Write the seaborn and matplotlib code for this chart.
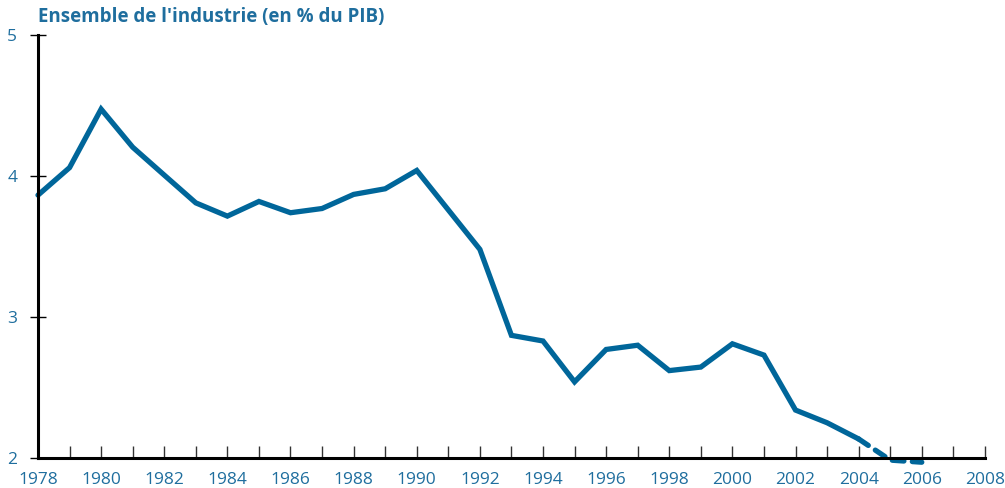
import numpy as np
import pandas as pd
import matplotlib
matplotlib.use('Agg')
import matplotlib.pyplot as plt
import seaborn as sns

# Values
years = [1978, 1979, 1980, 1981, 1982, 1983, 1984, 1985, 1986, 1987,
         1988, 1989, 1990, 1991, 1992, 1993, 1994, 1995, 1996, 1997,
         1998, 1999, 2000, 2001, 2002, 2003, 2004]
values = [3.865, 4.06, 4.475, 4.205, 4.007, 3.81, 3.716, 3.82, 3.74, 3.77,
          3.87, 3.91, 4.04, 3.76, 3.48, 2.87, 2.83, 2.54, 2.77, 2.80,
          2.62, 2.645, 2.81, 2.73, 2.34, 2.25, 2.135]
# projected part (dashed)
proj_years = [2004, 2005, 2006]
proj_values = [2.135, 1.985, 1.97]

xticks = list(range(1978, 2009, 2))
yticks = [2, 3, 4, 5]
title = "Ensemble de l'industrie (en % du PIB)"

blue = '#00669a'
text_blue = '#1f6e9e'

sns.set_style('white')
plt.rcParams['font.family'] = ['Open Sans', 'DejaVu Sans']

df = pd.DataFrame({'year': years, 'value': values})
proj = pd.DataFrame({'year': proj_years, 'value': proj_values})

fig = plt.figure(figsize=(10.05, 4.88), dpi=100)
ax = fig.add_axes([0.0378, 0.0615, 0.9422, 0.8665])

sns.lineplot(data=df, x='year', y='value', ax=ax, color=blue, lw=3.8,
             solid_joinstyle='miter', clip_on=False)
sns.lineplot(data=proj, x='year', y='value', ax=ax, color=blue, lw=3.8,
             linestyle=(0, (2.2, 1.6)), dash_capstyle='round', clip_on=False)

ax.set_xlim(1978, 2008)
ax.set_ylim(2, 5)
ax.set_xlabel('')
ax.set_ylabel('')
ax.set_xticks(xticks)
ax.set_xticks(range(1978, 2009), minor=True)
ax.set_yticks(yticks)

for s in ['top', 'right']:
    ax.spines[s].set_visible(False)
for s in ['left', 'bottom']:
    ax.spines[s].set_linewidth(2.2)
    ax.spines[s].set_color('black')

ax.tick_params(axis='x', which='both', bottom=True, direction='in', length=9,
               width=1, colors='#333333', labelcolor=text_blue,
               labelsize=12.5, pad=10)
ax.tick_params(axis='y', left=True, direction='inout', length=12, width=1,
               colors='black', labelcolor=text_blue, labelsize=12.5, pad=9)

fig.text(0.038, 0.945, title, color=text_blue, fontsize=13.5,
         fontweight='bold', ha='left', va='bottom')

fig.savefig('out.png', dpi=100)
